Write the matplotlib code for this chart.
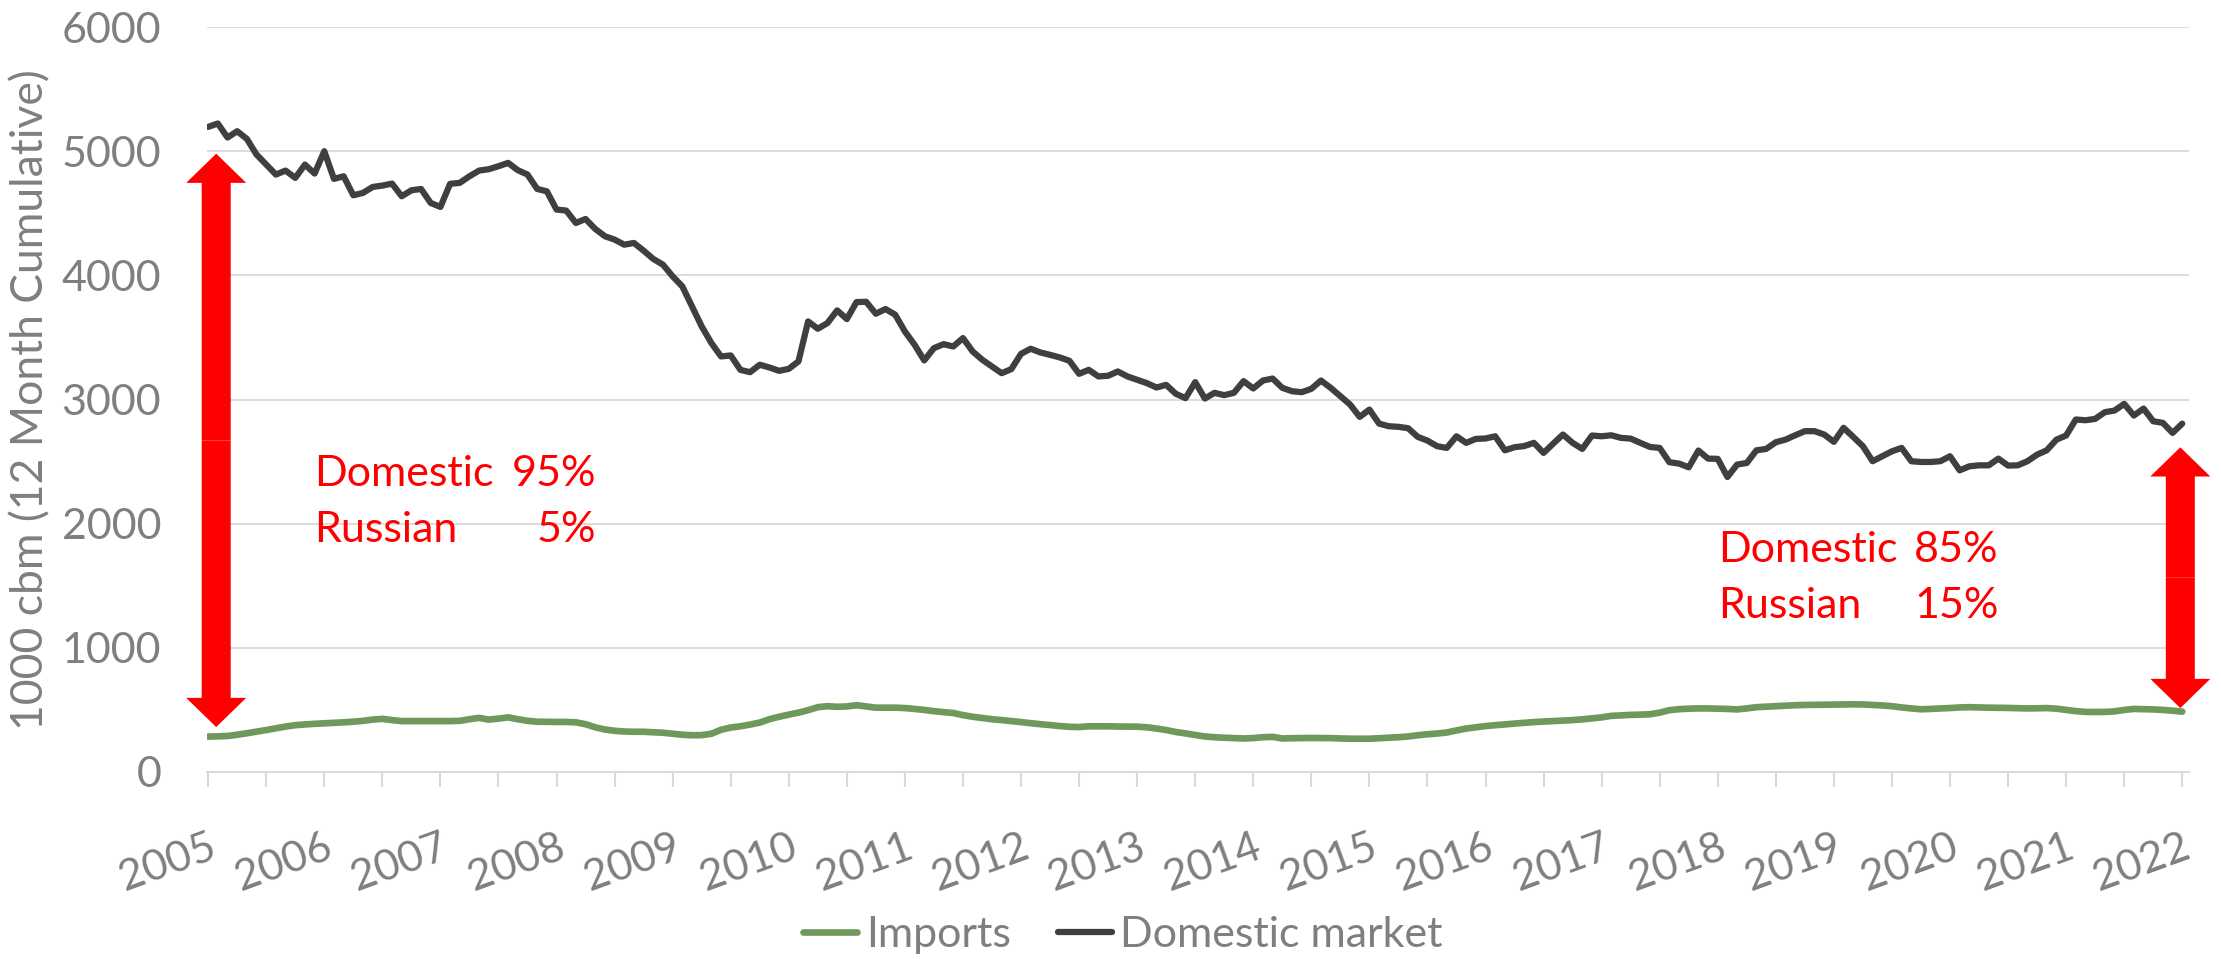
import numpy as np
import matplotlib.pyplot as plt
from matplotlib.patches import FancyArrow

# 12 month cumulative volumes, 1000 cbm, monthly from Jan 2005 to Jan 2022
domestic = [
    5196, 5223, 5110, 5161, 5099, 4973, 4892, 4812, 4844, 4785, 4892, 4820,  # 2005
    5000, 4777, 4798, 4645, 4664, 4712, 4723, 4739, 4637, 4685, 4696, 4583,  # 2006
    4551, 4737, 4745, 4798, 4844, 4855, 4879, 4906, 4847, 4812, 4696, 4677,  # 2007
    4530, 4522, 4422, 4454, 4374, 4315, 4288, 4247, 4261, 4199, 4132, 4086,  # 2008
    3992, 3911, 3750, 3589, 3455, 3347, 3355, 3239, 3220, 3280, 3258, 3231,  # 2009
    3247, 3307, 3629, 3570, 3616, 3718, 3648, 3785, 3787, 3691, 3729, 3683,  # 2010
    3548, 3441, 3315, 3414, 3446, 3427, 3495, 3387, 3320, 3266, 3212, 3245,  # 2011
    3368, 3409, 3379, 3360, 3339, 3312, 3207, 3239, 3186, 3191, 3226, 3186,  # 2012
    3159, 3132, 3097, 3118, 3046, 3011, 3140, 3008, 3054, 3035, 3054, 3148,  # 2013
    3089, 3153, 3169, 3094, 3067, 3059, 3086, 3153, 3094, 3027, 2960, 2860,  # 2014
    2919, 2806, 2785, 2780, 2769, 2699, 2669, 2624, 2610, 2704, 2651, 2683,  # 2015
    2686, 2704, 2591, 2616, 2625, 2651, 2570, 2645, 2718, 2651, 2602, 2710,  # 2016
    2704, 2712, 2691, 2685, 2651, 2618, 2610, 2495, 2484, 2454, 2589, 2524,  # 2017
    2522, 2376, 2476, 2489, 2591, 2602, 2656, 2677, 2712, 2745, 2745, 2718,  # 2018
    2659, 2772, 2699, 2624, 2503, 2543, 2583, 2610, 2503, 2497, 2497, 2503,  # 2019
    2543, 2430, 2462, 2470, 2470, 2524, 2468, 2470, 2503, 2556, 2591, 2677,  # 2020
    2710, 2839, 2833, 2844, 2898, 2911, 2965, 2871, 2927, 2825, 2812, 2731,  # 2021
    2806,                                                                    # 2022
]

imports = [
    285, 287, 290, 300, 312, 325, 338, 352, 366, 377, 383, 388,  # 2005
    392, 396, 400, 405, 412, 422, 428, 418, 410, 410, 410, 410,  # 2006
    410, 410, 412, 425, 436, 422, 430, 440, 425, 412, 405, 404,  # 2007
    403, 403, 400, 385, 360, 342, 332, 326, 324, 324, 320, 316,  # 2008
    308, 300, 296, 297, 308, 340, 358, 368, 382, 398, 425, 445,  # 2009
    462, 478, 498, 522, 530, 525, 528, 538, 528, 518, 518, 518,  # 2010
    515, 508, 500, 490, 482, 475, 458, 445, 435, 425, 418, 410,  # 2011
    402, 393, 385, 378, 370, 364, 362, 368, 368, 368, 366, 366,  # 2012
    365, 360, 350, 338, 322, 311, 298, 286, 280, 276, 273, 270,  # 2013
    273, 280, 283, 270, 272, 273, 274, 273, 273, 270, 268, 268,  # 2014
    268, 272, 276, 280, 286, 296, 304, 310, 318, 335, 350, 360,  # 2015
    370, 377, 383, 390, 396, 402, 406, 410, 414, 418, 424, 432,  # 2016
    440, 452, 456, 460, 462, 465, 478, 498, 506, 510, 512, 512,  # 2017
    510, 508, 504, 512, 522, 526, 530, 534, 538, 540, 541, 542,  # 2018
    543, 544, 545, 544, 540, 536, 530, 520, 512, 505, 508, 512,  # 2019
    515, 520, 522, 520, 518, 517, 516, 514, 512, 513, 515, 510,  # 2020
    500, 490, 484, 483, 484, 488, 500, 508, 506, 504, 500, 494,  # 2021
    486,                                                         # 2022
]

years = list(range(2005, 2023))
share_names = ['Domestic', 'Russian']
share_2005 = ['95%', '5%']
share_2022 = ['85%', '15%']

t = years[0] + np.arange(len(domestic)) / 12.0

plt.rcParams['font.family'] = ['Lato', 'DejaVu Sans']
grey = '#7f7f7f'
gridc = '#d9d9d9'
red = '#ff0000'
fs = 31

fig = plt.figure(figsize=(22.21, 9.59), dpi=100)
ax = fig.add_axes([0.0932, 0.195, 0.8924, 0.7768])

ax.plot(t, imports, color='#6f995c', lw=4.8, label='Imports',
        solid_joinstyle='round', solid_capstyle='round', zorder=3)
ax.plot(t, domestic, color='#3f3f3f', lw=4.5, label='Domestic market',
        solid_joinstyle='round', solid_capstyle='round', zorder=3)

ax.set_ylim(0, 6000)
ax.set_xlim(years[0] - 0.01, years[0] + 204.7 / 12)
ax.set_yticks(range(0, 6001, 1000))
ax.set_xticks(years)
ax.set_xticks(np.arange(years[0], years[-1] + 0.01, 0.5), minor=True)
ax.set_xticklabels([str(y) for y in years], rotation=20, ha='right', va='top',
                   rotation_mode='anchor')

ax.grid(axis='y', color=gridc, lw=1.3)
ax.set_axisbelow(True)
for s in ['top', 'right', 'left']:
    ax.spines[s].set_visible(False)
ax.spines['bottom'].set_color(gridc)
ax.spines['bottom'].set_linewidth(1.5)

ax.tick_params(axis='y', length=0, pad=33, labelsize=fs, labelcolor=grey)
ax.tick_params(axis='x', which='both', length=11, width=1.5, color=gridc, direction='out')
ax.tick_params(axis='x', which='major', pad=29, labelsize=fs, labelcolor=grey)

ax.set_ylabel('1000 cbm (12 Month Cumulative)', fontsize=32, color=grey)
ax.yaxis.set_label_coords(-0.0787, 0.5)

# share annotations
for i, (name, a, b) in enumerate(zip(share_names, share_2005, share_2022)):
    y_left = 2400 - i * 450
    y_right = 1790 - i * 455
    ax.text(years[0] + 11 / 12, y_left, name, color=red, fontsize=fs, ha='left', va='center')
    ax.text(years[0] + 40.1 / 12, y_left, a, color=red, fontsize=fs, ha='right', va='center')
    ax.text(years[0] + 156 / 12, y_right, name, color=red, fontsize=fs, ha='left', va='center')
    ax.text(years[0] + 185 / 12, y_right, b, color=red, fontsize=fs, ha='right', va='center')

# double headed arrows
arrow_x = [years[0] + 0.83 / 12, years[0] + 203.8 / 12]
arrow_lo = [362, 515]
arrow_hi = [4980, 2615]
for x, lo, hi in zip(arrow_x, arrow_lo, arrow_hi):
    mid = (lo + hi) / 2
    for end in (lo, hi):
        ax.add_patch(FancyArrow(x, mid, 0, end - mid, width=3.0 / 12, head_width=6.2 / 12,
                                head_length=235, length_includes_head=True,
                                color=red, lw=0, clip_on=False, zorder=4))

fig.legend(loc='center', bbox_to_anchor=(0.5057, 0.025), ncol=2, frameon=False,
           fontsize=fs, labelcolor=grey, handlelength=1.25, handletextpad=0.2,
           columnspacing=1.1)

fig.savefig('out.png', dpi=100)
